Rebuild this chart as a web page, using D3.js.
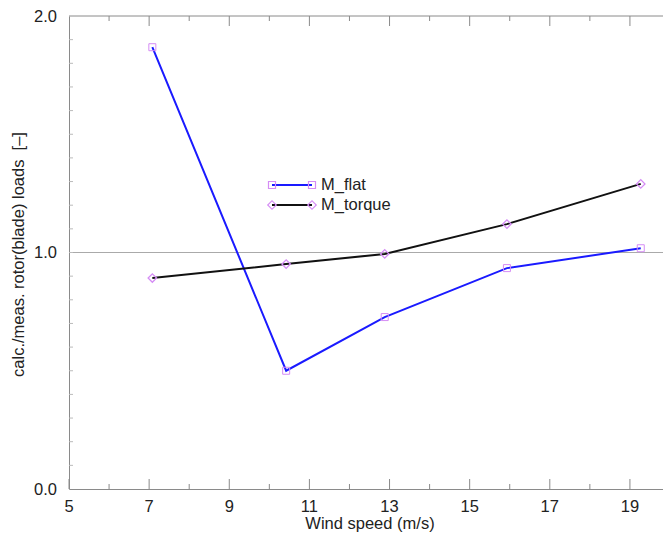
<!DOCTYPE html>
<html><head><meta charset="utf-8">
<script src="https://cdn.jsdelivr.net/npm/d3@7"></script>
<style>body{margin:0;background:#fff}svg{display:block;font-family:"Liberation Sans",Arial,sans-serif}</style>
</head><body>
<svg id="c" width="663" height="537"></svg>
<script>
const windSpeed = [7.08, 10.42, 12.88, 15.93, 19.27];
const mFlat = [1.868, 0.50, 0.727, 0.934, 1.018];
const mTorque = [0.892, 0.951, 0.994, 1.12, 1.29];
const xTickLabels = [5, 7, 9, 11, 13, 15, 17, 19];
const yTickLabels = [0.0, 1.0, 2.0];
const seriesNames = ["M_flat", "M_torque"];

const svg = d3.select("#c");
const L = 69, R = 670, T = 16, B = 489;
const x = d3.scaleLinear().domain([5, 20]).range([L, R]);
const y = d3.scaleLinear().domain([0, 2]).range([B, T]);
const axisCol = "#8a8a8a";
const FS = 16.5;

// gridline at 1.0
svg.append("line").attr("x1", L).attr("x2", 663).attr("y1", y(1)).attr("y2", y(1))
  .attr("stroke", "#aaa").attr("stroke-width", 1);

// bottom axis
const gB = svg.append("g").attr("transform", `translate(0,${B})`);
gB.call(d3.axisBottom(x).tickValues(d3.range(5, 21, 1)).tickSize(0).tickFormat(""));
gB.select(".domain").attr("stroke", axisCol);
gB.selectAll(".tick line").remove();
d3.range(5, 21, 1).forEach(v => {
  const len = (v % 2 === 1) ? 10 : 5;
  gB.append("line").attr("x1", x(v)).attr("x2", x(v)).attr("y1", 0).attr("y2", -len).attr("stroke", axisCol);
});
xTickLabels.forEach(v => {
  gB.append("text").attr("x", x(v)).attr("y", 23).attr("text-anchor", "middle")
    .attr("font-size", FS).attr("fill", "#222").text(v);
});

// top axis
const gT = svg.append("g").attr("transform", `translate(0,${T})`);
gT.append("line").attr("x1", L).attr("x2", 663).attr("y1", 0).attr("y2", 0).attr("stroke", axisCol);
d3.range(6, 20, 1).forEach(v => {
  const len = (v % 2 === 1) ? 10 : 5;
  gT.append("line").attr("x1", x(v)).attr("x2", x(v)).attr("y1", 0).attr("y2", len).attr("stroke", axisCol);
});

// left axis
const gL = svg.append("g").attr("transform", `translate(${L},0)`);
gL.call(d3.axisLeft(y).tickValues(yTickLabels).tickSize(0).tickPadding(12).tickFormat(d3.format(".1f")));
gL.select(".domain").attr("stroke", axisCol);
gL.selectAll(".tick text").attr("font-size", FS).attr("fill", "#222").attr("font-family", "Liberation Sans, Arial, sans-serif");
d3.range(1, 20).forEach(i => {
  const v = i / 10;
  gL.append("line").attr("x1", 0).attr("x2", 4).attr("y1", y(v)).attr("y2", y(v)).attr("stroke", "#bbb");
});

// labels
svg.append("text").attr("x", (L + 663) / 2 + 4).attr("y", 529).attr("text-anchor", "middle")
  .attr("font-size", FS).attr("fill", "#222").text("Wind speed (m/s)");
svg.append("text").attr("transform", `translate(24,${y(1) + 2}) rotate(-90)`).attr("text-anchor", "middle")
  .attr("font-size", FS).attr("fill", "#222").style("white-space", "pre")
  .text("calc./meas. rotor(blade) loads  [\u2013]");

const markCol = "#d58cf5";
const line = d3.line().x(d => x(d[0])).y(d => y(d[1]));
const flatPts = windSpeed.map((w, i) => [w, mFlat[i]]);
const torquePts = windSpeed.map((w, i) => [w, mTorque[i]]);

svg.append("path").datum(flatPts).attr("d", line).attr("fill", "none").attr("stroke", "#1a1aff").attr("stroke-width", 2);
svg.append("path").datum(torquePts).attr("d", line).attr("fill", "none").attr("stroke", "#111").attr("stroke-width", 2);

const sq = d3.symbol().type(d3.symbolSquare).size(49);
const dm = d3.symbol().type(d3.symbolSquare).size(36);
svg.selectAll(".fm").data(flatPts).enter().append("path")
  .attr("transform", d => `translate(${x(d[0])},${y(d[1])})`).attr("d", sq)
  .attr("fill", "none").attr("stroke", markCol).attr("stroke-width", 1);
svg.selectAll(".tm").data(torquePts).enter().append("path")
  .attr("transform", d => `translate(${x(d[0])},${y(d[1])}) rotate(45)`).attr("d", dm)
  .attr("fill", "none").attr("stroke", markCol).attr("stroke-width", 1.3);

// legend
const lx1 = 272, lx2 = 312;
[[185, "#1a1aff", sq, 0], [205, "#111", dm, 45]].forEach((s, i) => {
  svg.append("line").attr("x1", lx1).attr("x2", lx2).attr("y1", s[0]).attr("y2", s[0]).attr("stroke", s[1]).attr("stroke-width", 2);
  [lx1, lx2].forEach(px => svg.append("path").attr("transform", `translate(${px},${s[0]}) rotate(${s[3]})`).attr("d", s[2])
    .attr("fill", "none").attr("stroke", markCol).attr("stroke-width", 1.2));
  svg.append("text").attr("x", 321).attr("y", s[0] + 5).attr("font-size", FS).attr("fill", "#222").text(seriesNames[i]);
});
</script>
</body></html>
